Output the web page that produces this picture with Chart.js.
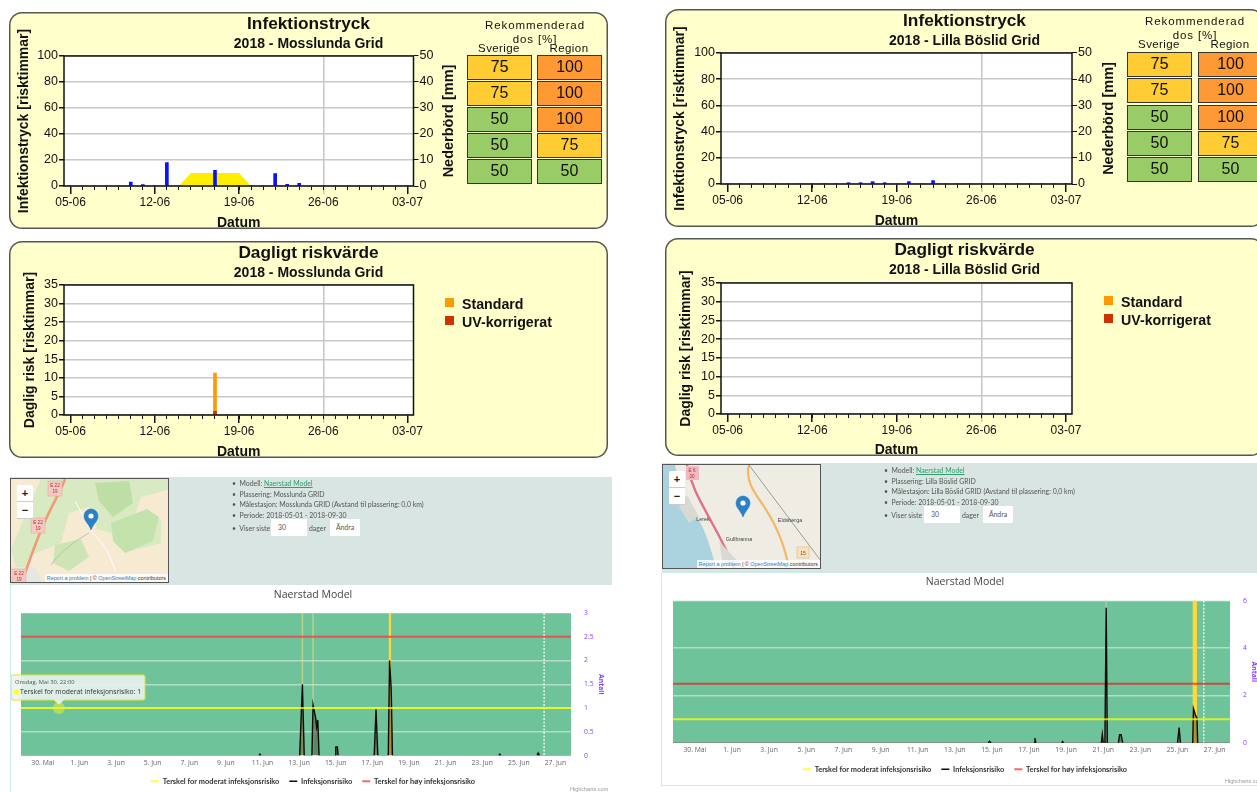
<!DOCTYPE html>
<html>
<head>
<meta charset="utf-8">
<script src="https://cdn.jsdelivr.net/npm/chart.js@4"></script>
<style>
  html, body { margin: 0; background: #fff; width: 1257px; height: 792px; overflow: hidden; font-family: 'Liberation Sans', Arial, sans-serif; }
  .abs, .panel, .cell, .hdr { position: absolute; }
  .panel { background: #ffffcc; border-radius: 13px; box-shadow: inset 0 0 0 1.5px #555; width: 599px; }
  .panel canvas, .wide canvas { position: absolute; left: 0; top: 0; }
  .cell { width: 65px; box-sizing: border-box; border: 1.5px solid #333; text-align: center; font-size: 16px; line-height: 21px; color: #111; }
  .hdr { font-size: 11.5px; line-height: 13px; color: #111; transform: translateX(-50%); white-space: nowrap; }
  .lg { position: absolute; font-size: 14.2px; font-weight: bold; color: #111; white-space: nowrap; }
  .lg i { position: absolute; left: -17px; top: 2px; width: 9px; height: 9px; }
  .strip { position: absolute; background: #d9e5e2; }
  .wide { position: absolute; background: #fff; box-sizing: border-box; filter: blur(.35px); }
  .info { position: absolute; font: 6.9px Lato, sans-serif; color: #555; white-space: nowrap; line-height: 10px; filter: blur(.3px); }
  .info a { color: #2f9e6c; text-decoration: underline; }
  .box { position: absolute; background: #fff; font: 6.9px Lato, sans-serif; color: #555; line-height: 16px; height: 17px; text-align: center; }
  .map { position: absolute; width: 159px; height: 105px; box-sizing: border-box; border: 1px solid #555; overflow: hidden; }
  .map svg { position: absolute; left: 0; top: 0; filter: blur(.4px); }
  .zoom { position: absolute; left: 6px; top: 6px; width: 16px; background: #fff; text-align: center; font: bold 11px/16px 'Liberation Sans'; color: #222; border-radius: 2px; }
  .zoom div { height: 16px; border-bottom: 1px solid #ccc; }
  .attr { position: absolute; right: 0; bottom: 0; background: rgba(255,255,255,.8); font: 5.4px 'Liberation Sans'; color: #333; padding: 1px 2px; white-space: nowrap; }
  .attr b { color: #2b82cb; font-weight: normal; }
  .credit { position: absolute; font: 5.5px 'Liberation Sans'; color: #999; white-space: nowrap; }
</style>
</head>
<body>
<script>
// day axis of the yellow panels, 0 = 05-06
const dayLabels = { 0: '05-06', 7: '12-06', 14: '19-06', 21: '26-06', 28: '03-07' };
const days = Array.from({ length: 29 }, (_, i) => i);

const rainMoss =    [0,0,0,0,0,1.5,0.5,0,9,0,0,0,6,0,0,0,0,4.8,0.6,1,0,0,0,0,0,0,0,0,0];
const pressureMoss =[0,0,0,0,0,0,0,0,0,0,10,10,10,10,10,0,0,0,0,0,0,0,0,0,0,0,0,0,0];
const stdMoss =     [0,0,0,0,0,0,0,0,0,0,0,0,11.3,0,0,0,0,0,0,0,0,0,0,0,0,0,0,0,0];
const uvMoss =      [0,0,0,0,0,0,0,0,0,0,0,0,1,0,0,0,0,0,0,0,0,0,0,0,0,0,0,0,0];

const rainBoslid =    [0,0,0,0,0,0,0,0,0,0,0.5,0.5,0.9,0.5,0,0.9,0,1.3,0,0,0,0,0,0,0,0,0,0,0];
const pressureBoslid =[0,0,0,0,0,0,0,0,0,0,0,0,0,0,0,0,0,0,0,0,0,0,0,0,0,0,0,0,0];
const stdBoslid =     [0,0,0,0,0,0,0,0,0,0,0,0,0,0,0,0,0,0,0,0,0,0,0,0,0,0,0,0,0];
const uvBoslid =      [0,0,0,0,0,0,0,0,0,0,0,0,0,0,0,0,0,0,0,0,0,0,0,0,0,0,0,0,0];

const doseSverige = [75, 75, 50, 50, 50];
const doseRegion = [100, 100, 100, 75, 50];

// naerstad charts, x in days after 30 May
const dateLabels = ['30. Mai','1. Jun','3. Jun','5. Jun','7. Jun','9. Jun','11. Jun','13. Jun','15. Jun','17. Jun','19. Jun','21. Jun','23. Jun','25. Jun','27. Jun'];
const riskMossX = [-1.19,11.8,11.86,11.92,14.03,14.18,14.28,14.7,14.76,14.9,14.96,15.02,15.09,15.97,16.0,16.09,16.13,18.1,18.2,18.3,18.87,18.94,19.03,19.1,24.9,24.96,25.02,27.0,27.05,27.1,28.85];
const riskMossY = [0,0,0.03,0,0,1.5,0,0,1.07,0.8,0.6,0.75,0,0,0.18,0.18,0,0,0.97,0,0,2,1.4,0,0,0.03,0,0,0.05,0,0];
const riskBoslidX = [-1.18,15.8,15.88,15.96,18.27,18.32,18.37,19.76,19.81,19.86,21.9,21.95,22.0,22.09,22.16,22.22,22.82,22.88,22.96,23.05,26.0,26.09,26.16,26.82,26.86,26.98,27.05,27.09,28.83];
const riskBoslidY = [0,0,0.07,0,0,0.2,0,0,0.06,0,0,0.35,0,0,5.7,0,0,0.35,0.35,0,0,0.65,0,0,1.45,1.15,1.05,0,0];

const bandsMoss = [[14.14,14.22,'rgba(255,225,120,.5)'],[14.72,14.8,'rgba(255,225,120,.5)'],[18.9,19.02,'#ffd83c']];
const bandsBoslid = [[22.12,22.2,'rgba(190,190,190,.9)'],[26.82,27.05,'#ffd83c']];

const moderateLevel = 1, highLevel = 2.5;

const F = "'Liberation Sans', Arial, sans-serif";

// white plot, outer frame and the left reading side title
const framePlugin = {
  id: 'frame',
  beforeDraw(chart) {
    const a = chart.chartArea;
    chart.ctx.fillStyle = '#fff';
    chart.ctx.fillRect(a.left, a.top, a.right - a.left, a.bottom - a.top);
  },
  afterDraw(chart, _, o) {
    const a = chart.chartArea, c = chart.ctx;
    c.save();
    c.strokeStyle = '#111'; c.lineWidth = 1.5;
    c.strokeRect(a.left, a.top, a.right - a.left, a.bottom - a.top);
    if (o.sideTitle) {
      c.translate(o.sideX, (a.top + a.bottom) / 2);
      c.rotate(-Math.PI / 2);
      c.font = 'bold 14.5px ' + F; c.fillStyle = '#111'; c.textAlign = 'center'; c.textBaseline = 'middle';
      c.fillText(o.sideTitle, 0, 0);
    }
    c.restore();
  }
};

function dayChart(host, o) {
  const W = 599, H = o.h;
  const cv = document.createElement('canvas');
  cv.width = W; cv.height = H;
  host.appendChild(cv);
  const pts = arr => days.map(i => ({ x: i, y: arr[i] }));
  const datasets = o.sets.map(s => s.kind === 'area'
    ? { type: 'line', data: pts(s.values), yAxisID: 'y', xAxisID: 'x', backgroundColor: s.color, fill: 'origin', borderWidth: 0, pointRadius: 0, order: 3 }
    : { type: 'bar', grouped: false, data: pts(s.values), yAxisID: s.axis, xAxisID: 'x', backgroundColor: s.color, barThickness: 3, order: s.order });
  const scales = {
    x: {
      type: 'linear', min: -0.55, max: 28.5, offset: false,
      grid: { offset: false, tickLength: 8, lineWidth: 1.5, color: c => c.tick && c.tick.value === 21 ? '#c6c6c6' : 'transparent', tickColor: c => c.tick && c.tick.value === 21 ? '#c6c6c6' : '#111' },
      border: { display: false },
      ticks: { stepSize: 7, includeBounds: false, autoSkip: false, maxRotation: 0, padding: 1, color: '#111', font: { family: F, size: 12 }, callback: v => dayLabels[v] || '' },
      title: { display: true, text: 'Datum', color: '#111', font: { family: F, size: 14, weight: 'bold' }, padding: { top: 0, bottom: -3 } },
      afterFit: s => { s.height = H - o.plotBottom; }
    },
    x2: {
      type: 'linear', position: 'bottom', weight: -1, min: -0.55, max: 28.5, offset: false,
      grid: { offset: false, drawOnChartArea: false, tickLength: 4, tickColor: '#111' },
      border: { display: false }, ticks: { display: false, stepSize: 1, includeBounds: false },
      afterFit: s => { s.height = 0; }
    },
    y: {
      position: 'left', min: 0, max: o.yMax,
      grid: { color: '#c8c8c8', lineWidth: 1.5, tickLength: 5, tickColor: '#111' },
      border: { display: false },
      ticks: { stepSize: o.yStep, autoSkip: false, padding: 1, color: '#111', font: { family: F, size: 12.5 } },
      title: { display: true, text: o.yTitle, color: '#111', font: { family: F, size: 14, weight: 'bold' }, padding: { top: o.titlePad, bottom: 0 } },
      afterFit: s => { s.width = o.plotLeft; }
    },
    y2: {
      position: 'right', min: 0, max: 50, display: true,
      grid: { drawOnChartArea: false, drawTicks: o.rightAxis, tickLength: 5, tickColor: '#111' },
      border: { display: false },
      ticks: { display: o.rightAxis, stepSize: 10, autoSkip: false, padding: 1, color: '#111', font: { family: F, size: 12.5 } },
      afterFit: s => { s.width = W - o.plotRight; }
    }
  };
  return new Chart(cv, {
    type: 'line',
    data: { datasets },
    plugins: [framePlugin],
    options: {
      responsive: false, animation: false, events: [], devicePixelRatio: 1,
      layout: { padding: 0 },
      scales,
      plugins: {
        legend: { display: false }, tooltip: { enabled: false },
        title: { display: true, text: o.title, color: '#111', font: { family: F, size: 17.3, weight: 'bold' }, padding: { top: 2, bottom: 0.8 } },
        subtitle: { display: true, text: o.sub, color: '#111', font: { family: F, size: 14, weight: 'bold' }, padding: { top: 0, bottom: o.subPad } },
        frame: { sideTitle: o.rightTitle, sideX: o.sideX }
      }
    }
  });
}

// plot background, plot bands and the dotted "today" line
const bandPlugin = {
  id: 'bands',
  beforeDraw(chart) {
    const a = chart.chartArea, c = chart.ctx;
    c.fillStyle = '#6fc39a';
    c.fillRect(a.left, a.top, a.right - a.left, a.bottom - a.top);
  },
  beforeDatasetsDraw(chart, _, o) {
    const a = chart.chartArea, c = chart.ctx, x = chart.scales.x;
    c.save();
    o.spans.forEach(s => {
      c.fillStyle = s[2];
      c.fillRect(x.getPixelForValue(s[0]), a.top, x.getPixelForValue(s[1]) - x.getPixelForValue(s[0]), a.bottom - a.top);
    });
    c.strokeStyle = '#fff'; c.lineWidth = 1.2; c.setLineDash([2, 1.5]);
    c.beginPath();
    c.moveTo(x.getPixelForValue(o.today), a.top);
    c.lineTo(x.getPixelForValue(o.today), a.bottom);
    c.stroke();
    c.restore();
  }
};

function modelChart(host, o) {
  const cv = document.createElement('canvas');
  cv.width = o.w; cv.height = o.h;
  host.appendChild(cv);
  const line = (xs, ys) => xs.map((x, i) => ({ x, y: ys[i] }));
  const modX = o.hoverX != null ? [o.xMin, o.hoverX, o.xMax] : [o.xMin, o.xMax];
  const chart = new Chart(cv, {
    type: 'line',
    data: {
      datasets: [
        { label: 'Terskel for moderat infeksjonsrisiko', data: modX.map(x => ({ x, y: moderateLevel })), borderColor: 'rgba(255,255,0,.75)', backgroundColor: 'rgba(255,255,0,.75)', borderWidth: 2, pointRadius: 0, pointHoverRadius: 6, pointHoverBorderWidth: 0, pointHoverBackgroundColor: 'rgba(225,240,60,.55)' },
        { label: 'Infeksjonsrisiko', data: line(o.riskX, o.riskY), borderColor: '#0c0c0c', backgroundColor: 'rgba(70,60,30,.45)', fill: 'origin', borderWidth: 1.4, pointRadius: 0,
          segment: { borderColor: c => (c.p0.parsed.y === 0 && c.p1.parsed.y === 0) ? 'rgba(20,30,25,.5)' : undefined } },
        { label: 'Terskel for høy infeksjonsrisiko', data: [o.xMin, o.xMax].map(x => ({ x, y: highLevel })), borderColor: 'rgba(255,0,0,.6)', backgroundColor: 'rgba(255,0,0,.6)', borderWidth: 2, pointRadius: 0 }
      ]
    },
    plugins: [bandPlugin],
    options: {
      responsive: false, animation: false, events: [], devicePixelRatio: 1,
      layout: { padding: { left: o.padX, right: o.padX } },
      scales: {
        x: {
          type: 'linear', min: o.xMin, max: o.xMax,
          grid: { display: false, drawTicks: false, tickLength: 0 }, border: { display: false },
          ticks: { stepSize: 2, includeBounds: false, autoSkip: false, maxRotation: 0, padding: 3, color: '#666', font: { family: "'Open Sans'", size: 6.8 }, callback: v => dateLabels[v / 2] || '' },
          afterFit: s => { s.height = o.axisH; }
        },
        y: {
          position: 'right', min: 0, max: o.yMax,
          grid: { color: 'rgba(255,255,255,.45)', lineWidth: 1.5, drawTicks: false },
          border: { display: false },
          ticks: { stepSize: o.yStep, padding: o.tickPad, color: '#8a3cff', font: { family: "'Open Sans'", size: 6.8 }, callback: v => String(v) },
          title: { display: true, text: 'Antall', color: '#8a3cff', font: { family: "'Open Sans'", size: 6.8, weight: 'bold' }, padding: { top: o.titlePad, bottom: 0 } },
          afterFit: s => { s.width = o.axisW; }
        }
      },
      plugins: {
        title: { display: true, text: 'Naerstad Model', color: '#444', font: { family: "'Open Sans'", size: 10.5, weight: 'normal' }, padding: { top: o.titleTop, bottom: o.titleGap } },
        legend: { position: 'bottom', labels: { usePointStyle: true, pointStyle: 'line', pointStyleWidth: 8, padding: 10, boxHeight: 8, color: '#333', font: { family: 'Lato', size: 7.4, weight: 'bold' } } },
        tooltip: {
          enabled: o.hoverX != null, backgroundColor: 'rgba(236,244,239,.88)', borderColor: '#dfe030', borderWidth: 1,
          titleColor: '#555', titleFont: { family: "'Open Sans'", size: 5.8, weight: 'normal' }, bodyColor: '#333', bodyFont: { family: "'Open Sans'", size: 6.8 },
          cornerRadius: 2, padding: 4, caretSize: 5, caretPadding: 3, yAlign: 'bottom', xAlign: 'center', boxWidth: 3, boxHeight: 3, titleMarginBottom: 2,
          callbacks: { title: () => 'Onsdag, Mai 30, 22:00', label: c => c.dataset.label + ': ' + c.parsed.y },
          multiKeyBackground: 'rgba(0,0,0,0)'
        },
        bands: { spans: o.bands, today: o.today }
      }
    }
  });
  if (o.hoverX != null) {
    const el = [{ datasetIndex: 0, index: 1 }];
    chart.setActiveElements(el);
    chart.tooltip.setActiveElements(el, { x: 0, y: 0 });
    chart.update();
  }
  return chart;
}

function el(cls, css, html, parent) {
  const d = document.createElement('div');
  d.className = cls;
  d.style.cssText = css;
  if (html != null) d.innerHTML = html;
  (parent || document.body).appendChild(d);
  return d;
}

const doseColor = { 50: '#99cc66', 75: '#ffcc33', 100: '#ff9933' };
function doseTable(x1, x2, rows, hdrX, hdrY) {
  el('hdr', `left:${hdrX}px;top:${hdrY}px;letter-spacing:.9px`, 'Rekommenderad');
  el('hdr', `left:${hdrX}px;top:${hdrY + 13.5}px;letter-spacing:.9px`, 'dos [%]');
  el('hdr', `left:${x1 + 32}px;top:${hdrY + 23}px;letter-spacing:.4px`, 'Sverige');
  el('hdr', `left:${x2 + 32}px;top:${hdrY + 23}px;letter-spacing:.4px`, 'Region');
  rows.forEach((r, i) => {
    [doseSverige[i], doseRegion[i]].forEach((v, j) => {
      el('cell', `left:${j ? x2 : x1}px;top:${r[0]}px;height:${r[1]}px;line-height:${r[1] - 3}px;background:${doseColor[v]}`, v);
    });
  });
}

function panel(x, y, h) { return el('panel', `left:${x}px;top:${y}px;height:${h}px`); }

function infoBlock(x, y, place, inputX, dagerX, btnX) {
  const rows = [
    'Modell: <a>Naerstad Model</a>',
    'Plassering: ' + place,
    'Målestasjon: ' + place + ' (Avstand til plassering: 0,0 km)',
    'Periode: 2018-05-01 - 2018-09-30'
  ];
  rows.forEach((t, i) => {
    el('info', `left:${x}px;top:${y + i * 10.6}px`, '&bull;&nbsp; ' + t);
  });
  el('info', `left:${x}px;top:${y + 45}px`, '&bull;&nbsp; Viser siste');
  el('box', `left:${inputX}px;top:${y + 41}px;width:36px;text-align:left;text-indent:7px`, '30');
  el('info', `left:${dagerX}px;top:${y + 45}px`, 'dager');
  el('box', `left:${btnX}px;top:${y + 41}px;width:30px`, 'Ändra');
}

const zoomCtl = '<div class="zoom"><div>+</div><div>&minus;</div></div>';
const attrib = '<div class="attr"><b>Report a problem</b> | &copy; <b>OpenStreetMap</b> contributors</div>';
const pin = (x, y) => `<path d="M${x} ${y}c-2-6-7-9-7-14a7 7 0 0 1 14 0c0 5-5 8-7 14z" fill="#2a81cb" stroke="#1f6aa8" stroke-width=".5"/><circle cx="${x}" cy="${y - 14}" r="2.6" fill="#fff"/>`;
const shield = (x, y, a, b) => `<rect x="${x}" y="${y}" width="14" height="15" fill="#f4c9c0" stroke="#e0a8a0" stroke-width=".5"/><text x="${x + 7}" y="${y + 6}" font-size="4.6" text-anchor="middle" fill="#a33" font-family="Liberation Sans">${a}</text><text x="${x + 7}" y="${y + 12}" font-size="4.6" text-anchor="middle" fill="#a33" font-family="Liberation Sans">${b}</text>`;

const mapA = `<svg width="159" height="105" viewBox="0 0 159 105">
<rect width="159" height="105" fill="#f7ead2"/>
<path d="M30 0h130v10l-30 8-10 30 30-8v24l-30 8-14-16-20-6-8-22-20 6-8 30-30 12-12 24-8-30z" fill="#d9e9c2"/>
<path d="M84 4l34-2 4 22-20 14-14-16z" fill="#bddfa6"/>
<path d="M100 44l36-14 12 8-6 24-28 12-12-12z" fill="#c4e2ab"/>
<path d="M44 66l26-6 8 18-20 14-16-8z" fill="#cde5b4"/>
<path d="M0 88h24l8 17H0z" fill="#e6e6e4"/>
<path d="M10 105C18 84 26 58 36 38 42 24 50 12 54 0" fill="none" stroke="#ef9a78" stroke-width="2.6"/>
<path d="M64 22c8 14 12 24 18 32 8 10 16 16 22 38" fill="none" stroke="#fff" stroke-width="1"/>
<path d="M40 86c10-14 24-24 38-32" fill="none" stroke="#b9c4b0" stroke-width="1"/>
${shield(37, 2, 'E 22', '19')}${shield(20, 39, 'E 22', '19')}${shield(1, 90, 'E 22', '19')}${pin(80, 51)}</svg>`;

const mapB = `<svg width="159" height="105" viewBox="0 0 159 105">
<rect width="159" height="105" fill="#efece4"/>
<path d="M0 0h12c4 20 8 34 22 52 10 16 14 34 20 53H0z" fill="#aad3df"/>
<path d="M24 0c4 20 12 34 24 56 10 18 18 34 24 49" fill="none" stroke="#e2708d" stroke-width="2.4"/>
<path d="M86 0c-4 14 4 26 14 40 12 18 22 38 26 65" fill="none" stroke="#f2b866" stroke-width="2.2"/>
<path d="M86 0l72 96" fill="none" stroke="#9a9a9a" stroke-width="1"/>
<path d="M24 30l12 22-10 6-10-16z" fill="#d8d8d4"/><path d="M56 76l22 24H60z" fill="#d8d8d4"/>
<text x="40" y="56" font-size="5.4" fill="#444" font-family="Liberation Sans" text-anchor="middle">Lerek</text>
<text x="76" y="76" font-size="5.4" fill="#444" font-family="Liberation Sans" text-anchor="middle">Gullbranna</text>
<text x="127" y="57" font-size="5.4" fill="#444" font-family="Liberation Sans" text-anchor="middle">Eldsberga</text>
<rect x="23" y="1" width="13" height="14" fill="#f0b8c0"/><text x="29" y="6.5" font-size="4.6" text-anchor="middle" fill="#a33" font-family="Liberation Sans">E 6</text><text x="29" y="12.5" font-size="4.6" text-anchor="middle" fill="#a33" font-family="Liberation Sans">20</text>
<rect x="134" y="82" width="12" height="11" fill="#fbe0b8" stroke="#d9b078" stroke-width=".5"/><text x="140" y="89.5" font-size="5" text-anchor="middle" fill="#555" font-family="Liberation Sans">15</text>
${pin(80, 52)}</svg>`;

// left column
const p1 = panel(9, 12, 217);
dayChart(p1, { h: 217, plotLeft: 55, plotRight: 404.5, plotBottom: 174, yMax: 100, yStep: 20, rightAxis: true, rightTitle: 'Nederbörd [mm]', sideX: 440, titlePad: 7, subPad: 3.6,
  yTitle: 'Infektionstryck [risktimmar]', title: 'Infektionstryck', sub: '2018 - Mosslunda Grid',
  sets: [{ kind: 'area', values: pressureMoss, color: '#ffee00' }, { kind: 'bar', values: rainMoss, color: '#0a14f0', axis: 'y2', order: 1 }] });
doseTable(467, 537, [[55, 25], [81, 25], [107, 25], [133, 25], [159, 25]], 535, 19);

const p2 = panel(9, 241, 217);
dayChart(p2, { h: 217, plotLeft: 55, plotRight: 404.5, plotBottom: 174, yMax: 35, yStep: 5, rightAxis: false, sideX: 0, titlePad: 13, subPad: 3.6,
  yTitle: 'Daglig risk [risktimmar]', title: 'Dagligt riskvärde', sub: '2018 - Mosslunda Grid',
  sets: [{ kind: 'bar', values: uvMoss, color: '#cc3300', axis: 'y', order: 1 }, { kind: 'bar', values: stdMoss, color: '#ff9900', axis: 'y', order: 2 }] });
el('lg', 'left:462px;top:296px', '<i style="background:#ff9900"></i>Standard');
el('lg', 'left:462px;top:314px', '<i style="background:#cc3300"></i>UV-korrigerat');

el('strip', 'left:10px;top:477px;width:602px;height:108px');
const mapBoxA = el('map', 'left:10px;top:478px;background:#f7ead2', mapA + zoomCtl + attrib);
infoBlock(232, 478, 'Mosslunda GRID', 271, 309, 330);
const w1 = el('wide', 'left:10px;top:585px;width:604px;height:207px;border-left:1px solid #c9ece8');
modelChart(w1, { w: 604, h: 210, padX: 10, axisW: 34, axisH: 12, titlePad: -0.2, titleTop: 3.5, titleGap: 11.9, tickPad: 13, xMin: -1.19, xMax: 28.85, yMax: 3, yStep: 0.5, riskX: riskMossX, riskY: riskMossY, bands: bandsMoss, today: 27.38, hoverX: 0.88 });
el('credit', 'left:570px;top:786px', 'Highcharts.com');

// right column
const p3 = panel(665, 9, 218);
dayChart(p3, { h: 218, plotLeft: 56, plotRight: 407, plotBottom: 175, yMax: 100, yStep: 20, rightAxis: true, rightTitle: 'Nederbörd [mm]', sideX: 444, titlePad: 7, subPad: 3.6,
  yTitle: 'Infektionstryck [risktimmar]', title: 'Infektionstryck', sub: '2018 - Lilla Böslid Grid',
  sets: [{ kind: 'area', values: pressureBoslid, color: '#ffee00' }, { kind: 'bar', values: rainBoslid, color: '#0a14f0', axis: 'y2', order: 1 }] });
doseTable(1127, 1198, [[52, 25], [78, 25], [105, 25], [131, 25], [157, 25]], 1195, 15);

const p4 = panel(665, 238, 218);
dayChart(p4, { h: 218, plotLeft: 56, plotRight: 407, plotBottom: 176, yMax: 35, yStep: 5, rightAxis: false, sideX: 0, titlePad: 13, subPad: 4.6,
  yTitle: 'Daglig risk [risktimmar]', title: 'Dagligt riskvärde', sub: '2018 - Lilla Böslid Grid',
  sets: [{ kind: 'bar', values: uvBoslid, color: '#cc3300', axis: 'y', order: 1 }, { kind: 'bar', values: stdBoslid, color: '#ff9900', axis: 'y', order: 2 }] });
el('lg', 'left:1121px;top:294px', '<i style="background:#ff9900"></i>Standard');
el('lg', 'left:1121px;top:312px', '<i style="background:#cc3300"></i>UV-korrigerat');

el('strip', 'left:662px;top:463px;width:595px;height:110px');
const mapBoxB = el('map', 'left:662px;top:464px;background:#efece4', mapB + zoomCtl + attrib);
infoBlock(884, 465, 'Lilla Böslid GRID', 924, 962, 983);
const w2 = el('wide', 'left:661px;top:572px;width:608px;height:214px;border:1px solid #c9ece8');
modelChart(w2, { w: 606, h: 210, padX: 11, axisW: 27, axisH: 12.7, titlePad: -1.2, titleTop: 3, titleGap: 12.1, tickPad: 13, xMin: -1.18, xMax: 28.83, yMax: 6, yStep: 2, riskX: riskBoslidX, riskY: riskBoslidY, bands: bandsBoslid, today: 27.42, hoverX: null });
el('credit', 'left:1225px;top:778px', 'Highcharts.com');
</script>
</body>
</html>
